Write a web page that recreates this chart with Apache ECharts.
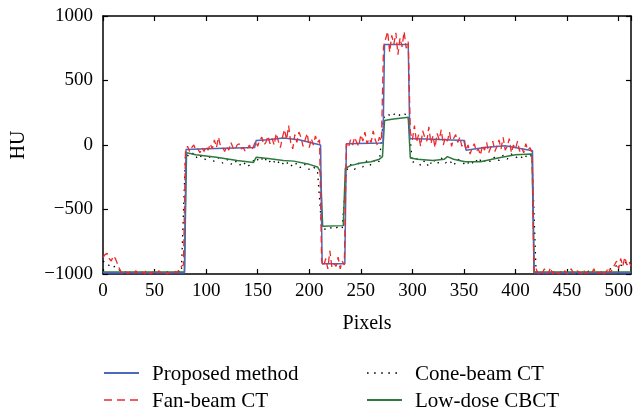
<!DOCTYPE html>
<html>
<head>
<meta charset="utf-8">
<script src="https://cdn.jsdelivr.net/npm/echarts@6/dist/echarts.min.js"></script>
<style>html,body{margin:0;padding:0;background:#fff}#c{width:636px;height:411px}</style>
</head>
<body>
<div id="c"></div>
<script>
// Regular sample positions (pixel index) for the noisy profiles
var fanPixels = Array.from({length: 257}, function (_, i) { return i * 2; });
var conePixels = Array.from({length: 129}, function (_, i) { return i * 4; });

var fanBeam = [
  -870,-850,-840,-880,-900,-860,-880,-920,-960,-990,-1000,-980,-995,-985,-1000,-990,-975,-1000,-990,-985,
  -1000,-970,-990,-1000,-985,-995,-1000,-975,-990,-1000,-985,-1000,-990,-995,-1000,-980,-990,-960,-940,-930,
  -40,-10,-50,-20,0,-40,-30,-60,-20,-50,-10,-40,10,-30,40,-20,60,-10,-20,-50,
  -10,-40,20,-20,-40,0,10,-30,-20,-50,-30,0,-40,-10,
  30,-10,40,60,0,20,70,10,50,0,90,30,-20,60,120,40,150,20,-30,80,
  20,100,60,-10,40,90,-20,50,0,70,20,40,
  -900,-940,-880,-960,-820,-950,-920,-940,-870,-960,-900,-930,
  10,-20,40,0,60,20,-10,80,30,100,10,50,20,110,40,0,60,30,
  760,820,880,720,850,780,870,700,830,760,880,750,800,
  100,40,150,20,80,-10,110,60,30,140,10,70,-20,90,40,120,0,60,30,100,
  -10,50,80,20,60,-10,30,
  -40,0,-70,-20,10,-50,-30,-80,0,-40,20,-60,-20,30,-50,-10,40,-30,60,-40,
  -10,50,-60,0,-30,30,-50,-20,-60,10,-40,-20,-60,
  -990,-960,-1000,-980,-995,-960,-1000,-990,-950,-1000,-970,-990,-1000,-980,-995,-975,-1000,-985,-960,-990,
  -1000,-975,-990,-1000,-970,-995,-985,-1000,-990,-960,-1000,-985,-995,-970,-1000,-985,-950,-990,-960,-930,
  -900,-960,-880,-940,-870,-930,-900,-940
];

var coneBeam = [
  -900,-920,-950,-940,-970,-990,-1000,-990,-1000,-985,-1000,-990,-1000,-985,-995,-1000,-975,-990,-975,-985,
  -70,-90,-60,-110,-80,-120,-90,-130,-100,-140,-110,-150,-120,-160,-130,-170,-140,
  -100,-130,-90,-140,-110,-150,-120,-160,-130,-170,-140,-180,-150,-190,-170,-200,
  -640,-655,-640,-650,-635,-645,
  -200,-150,-190,-140,-170,-120,-160,-110,-130,
  210,240,220,250,230,245,220,
  -140,-100,-160,-120,-170,-110,-150,-100,-140,-120,-160,-110,-130,
  -160,-120,-150,-100,-140,-110,-130,-90,-120,-80,-110,-70,-100,-80,-110,-70,-90,
  -990,-1000,-985,-1000,-990,-975,-1000,-985,-995,-980,-1000,-985,-995,-970,-990,-1000,-980,-990,-960,-950,-920,-940,-900,-920
];

var proposedPixels = [0,79,80.5,100,147,148.5,160,175,190,211,212.5,234.5,236,271.5,273,296,297.5,320,350.5,352,370,390,416.5,418,512];
var proposed       = [-990,-990,-35,-30,-20,35,40,55,40,0,-920,-920,10,15,780,780,50,45,35,-40,-20,-5,-45,-990,-990];

var lowDosePixels = [0,79,81,90,110,130,146,148.5,160,175,185,200,208,211,213,233,235,240,250,260,268,271,273,280,290,296,298,305,320,331,334,340,351,355,366,383,400,416,418,512];
var lowDose       = [-985,-985,-60,-75,-95,-120,-135,-95,-105,-120,-125,-150,-170,-210,-630,-625,-180,-160,-140,-130,-110,-90,190,200,210,215,-100,-110,-120,-110,-90,-110,-130,-130,-130,-100,-75,-70,-985,-985];

var xTicks = {min: 0, max: 512, interval: 50};
var yTicks = {min: -1000, max: 1000, interval: 500};
var legendNames = ['Proposed method', 'Fan-beam CT', 'Cone-beam CT', 'Low-dose CBCT'];

function pairs(xs, ys) { return xs.map(function (x, i) { return [x, ys[i]]; }); }

var FONT = 'Liberation Serif';
var C = {prop: '#4a68bd', fan: '#f02828', cone: '#000', low: '#2c7a3e'};
var DASH = {fan: [7, 4], cone: [1.5, 5]};
var chart = echarts.init(document.getElementById('c'), null, {renderer: 'canvas'});
var axisLine = {show: true, onZero: false, lineStyle: {color: '#000', width: 1.5}};
var tick = {show: true, inside: true, length: 5, lineStyle: {color: '#000', width: 1.2}};
function fmt(v) { return String(v).replace('-', '\u2212'); }

function legendItem(x, y, name, color, dash, width) {
  return [
    {type: 'line', shape: {x1: x, y1: y, x2: x + 35, y2: y},
     style: {stroke: color, lineWidth: width, lineDash: dash || null}},
    {type: 'text', x: x + 48, y: y + 1,
     style: {text: name, fill: '#000', font: '21px "' + FONT + '"', textVerticalAlign: 'middle', verticalAlign: 'middle'}}
  ];
}

var graphics = [].concat(
  legendItem(104, 373, legendNames[0], C.prop, null, 1.8),
  legendItem(104, 400, legendNames[1], C.fan, [8, 5], 1.6),
  legendItem(367, 373, legendNames[2], C.cone, [1.6, 5.5], 1.6),
  legendItem(367, 400, legendNames[3], C.low, null, 1.8)
);

chart.setOption({
  animation: false,
  backgroundColor: '#fff',
  grid: {left: 103, right: 5, top: 16, bottom: 137, containLabel: false},
  xAxis: [
    {type: 'value', min: xTicks.min, max: xTicks.max, interval: xTicks.interval, position: 'bottom',
     axisLine: axisLine, axisTick: tick, splitLine: {show: false},
     axisLabel: {color: '#000', fontFamily: FONT, fontSize: 19, margin: 8, formatter: fmt, showMaxLabel: false},
     name: 'Pixels', nameLocation: 'middle', nameGap: 40,
     nameTextStyle: {color: '#000', fontFamily: FONT, fontSize: 20}},
    {type: 'value', min: xTicks.min, max: xTicks.max, interval: xTicks.interval, position: 'top',
     axisLine: axisLine, axisTick: tick, splitLine: {show: false}, axisLabel: {show: false}}
  ],
  yAxis: [
    {type: 'value', min: yTicks.min, max: yTicks.max, interval: yTicks.interval, position: 'left',
     axisLine: axisLine, axisTick: tick, splitLine: {show: false},
     axisLabel: {color: '#000', fontFamily: FONT, fontSize: 19, margin: 10, formatter: fmt},
     name: 'HU', nameLocation: 'middle', nameGap: 74, nameRotate: 90,
     nameTextStyle: {color: '#000', fontFamily: FONT, fontSize: 20}},
    {type: 'value', min: yTicks.min, max: yTicks.max, interval: yTicks.interval, position: 'right',
     axisLine: axisLine, axisTick: tick, splitLine: {show: false}, axisLabel: {show: false}}
  ],
  graphic: graphics,
  series: [
    {name: legendNames[2], type: 'line', data: pairs(conePixels, coneBeam), symbol: 'none',
     lineStyle: {color: C.cone, width: 1.3, type: DASH.cone}, itemStyle: {color: C.cone}},
    {name: legendNames[3], type: 'line', data: pairs(lowDosePixels, lowDose), symbol: 'none',
     lineStyle: {color: C.low, width: 1.5}, itemStyle: {color: C.low}},
    {name: legendNames[0], type: 'line', data: pairs(proposedPixels, proposed), symbol: 'none',
     lineStyle: {color: C.prop, width: 1.5}, itemStyle: {color: C.prop}},
    {name: legendNames[1], type: 'line', data: pairs(fanPixels, fanBeam), symbol: 'none',
     lineStyle: {color: C.fan, width: 1.3, type: DASH.fan}, itemStyle: {color: C.fan}}
  ]
});
</script>
</body>
</html>
